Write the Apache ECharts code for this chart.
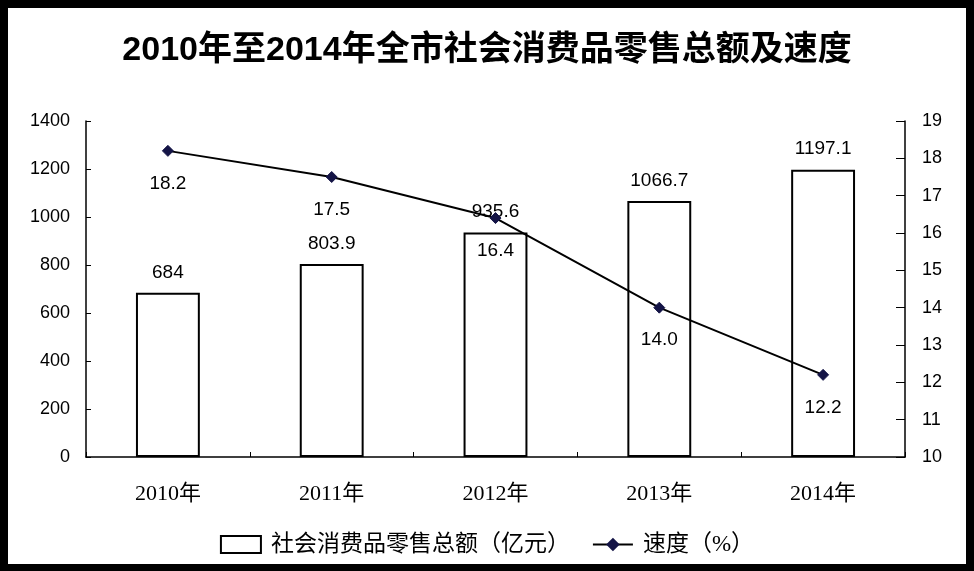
<!DOCTYPE html>
<html><head><meta charset="utf-8">
<script src="https://cdn.jsdelivr.net/npm/echarts@6/dist/echarts.min.js"></script>
<style>
html,body{margin:0;padding:0;background:#000;width:974px;height:571px;overflow:hidden;}
#c{position:absolute;left:8px;top:8px;width:958px;height:556px;background:#fff;}
</style></head><body>
<div id="c"></div>
<script>
var categories = ['2010年','2011年','2012年','2013年','2014年'];
var salesValues = [684, 803.9, 935.6, 1066.7, 1197.1];
var speedValues = [18.2, 17.5, 16.4, 14.0, 12.2];
var leftTicks = {min:0, max:1400, interval:200};
var rightTicks = {min:10, max:19, interval:1};
var salesName = '社会消费品零售总额（亿元）';
var speedName = '速度（%）';
var titleText = '2010年至2014年全市社会消费品零售总额及速度';

var chart = echarts.init(document.getElementById('c'), null, {renderer:'canvas'});
var axisFont = {color:'#000', fontSize:18, fontFamily:'Arial, Liberation Sans, sans-serif',
  formatter:function(v){return String(v);}};
chart.setOption({
  animation:false,
  backgroundColor:'#fff',
  title:{text:titleText, left:'center', top:21,
    textStyle:{fontSize:34, fontWeight:'bold', color:'#000', fontFamily:'Liberation Sans, Noto Sans CJK SC, sans-serif'}},
  grid:{left:78, right:61, top:113, bottom:107},
  legend:{bottom:3, left:'center', itemWidth:40, itemHeight:17, itemGap:22,
    textStyle:{fontSize:23, color:'#000', padding:[0,0,0,5], fontFamily:'Liberation Serif, Noto Sans CJK SC, serif'},
    data:[{name:salesName, icon:'rect'}, {name:speedName}]},
  xAxis:{type:'category', data:categories,
    axisLine:{lineStyle:{color:'#000', width:1.5}},
    axisTick:{show:true, inside:true, length:5, lineStyle:{color:'#000'}},
    axisLabel:{color:'#000', fontSize:22, margin:26, fontFamily:'Liberation Serif, Times New Roman, Noto Sans CJK SC, serif'}},
  yAxis:[
    {type:'value', min:leftTicks.min, max:leftTicks.max, interval:leftTicks.interval,
     splitLine:{show:false},
     axisLine:{show:true, lineStyle:{color:'#000', width:1.5}},
     axisTick:{show:true, inside:true, length:5, lineStyle:{color:'#000'}},
     axisLabel:Object.assign({margin:16}, axisFont)},
    {type:'value', min:rightTicks.min, max:rightTicks.max, interval:rightTicks.interval,
     splitLine:{show:false},
     axisLine:{show:true, lineStyle:{color:'#000', width:1.5}},
     axisTick:{show:true, inside:true, length:9, lineStyle:{color:'#000'}},
     axisLabel:Object.assign({margin:17}, axisFont)}
  ],
  series:[
    {name:salesName, type:'bar', data:salesValues, barWidth:'39%', yAxisIndex:0,
     itemStyle:{color:'#fff', borderColor:'#000', borderWidth:2},
     label:{show:true, position:'top', distance:11, color:'#000', fontSize:19, fontFamily:'Arial, Liberation Sans, sans-serif'}},
    {name:speedName, type:'line', data:speedValues, yAxisIndex:1,
     symbol:'diamond', symbolSize:11,
     lineStyle:{color:'#000', width:2},
     itemStyle:{color:'#141446', borderColor:'#141446'},
     label:{show:true, position:'bottom', distance:17, color:'#000', fontSize:19, fontFamily:'Arial, Liberation Sans, sans-serif',
       formatter:function(p){return p.value.toFixed(1);}}}
  ]
});
</script></body></html>
